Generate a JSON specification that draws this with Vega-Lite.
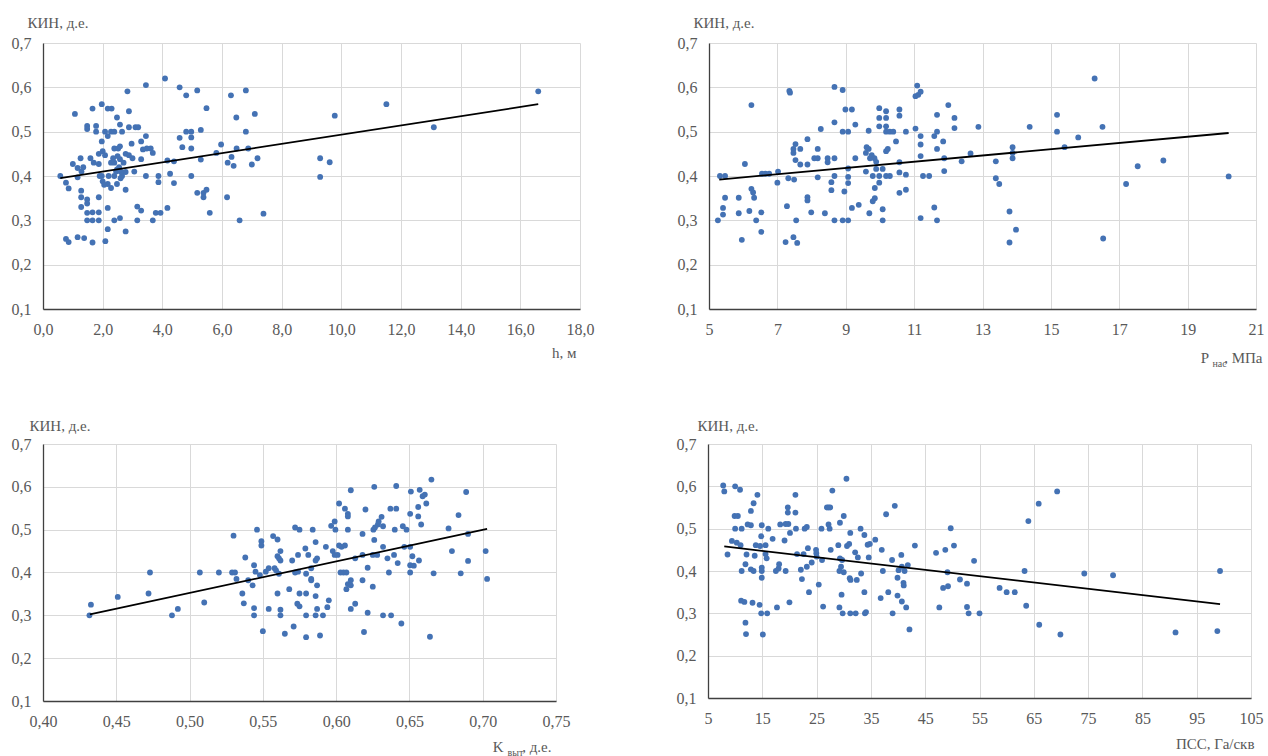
{
"$schema": "https://vega.github.io/schema/vega-lite/v6.json",
"background": "white",
"padding": {"left": 11, "top": 15, "right": 0, "bottom": 0},
"config": {
 "view": {"stroke": null},
 "font": "Liberation Serif, Times New Roman, DejaVu Serif, serif",
 "style": {"guide-label": {"font": "Liberation Serif, Times New Roman, DejaVu Serif, serif"}, "guide-title": {"font": "Liberation Serif, Times New Roman, DejaVu Serif, serif"}},
 "axis": {"grid": true, "gridColor": "#d9d9d9", "gridWidth": 1, "ticks": false, "domainColor": "#404040", "domainWidth": 1.3,
  "labelFont": "Liberation Serif, Times New Roman, DejaVu Serif, serif", "labelFontSize": 16, "labelColor": "#595959", "labelPadding": 12, "labelFlush": false, "labelOverlap": false, "labelBound": false,
  "titleFont": "Liberation Serif, Times New Roman, DejaVu Serif, serif", "titleFontSize": 15, "titleFontWeight": "normal", "titleColor": "#595959"}
},
"datasets": {
 "p1": [{"x":0.58,"y":0.40},{"x":0.77,"y":0.385},{"x":0.86,"y":0.372},{"x":0.77,"y":0.258},{"x":0.86,"y":0.251},{"x":1.07,"y":0.54},{"x":1.0,"y":0.427},{"x":1.16,"y":0.418},{"x":1.16,"y":0.397},{"x":1.29,"y":0.41},{"x":1.16,"y":0.262},{"x":1.38,"y":0.26},{"x":1.26,"y":0.44},{"x":1.28,"y":0.367},{"x":1.28,"y":0.352},{"x":1.28,"y":0.33},{"x":1.48,"y":0.513},{"x":1.48,"y":0.506},{"x":1.48,"y":0.347},{"x":1.48,"y":0.338},{"x":1.48,"y":0.317},{"x":1.48,"y":0.30},{"x":1.59,"y":0.44},{"x":1.66,"y":0.552},{"x":1.66,"y":0.30},{"x":1.66,"y":0.318},{"x":1.66,"y":0.25},{"x":1.78,"y":0.513},{"x":1.78,"y":0.50},{"x":1.87,"y":0.45},{"x":1.87,"y":0.427},{"x":1.87,"y":0.352},{"x":1.87,"y":0.318},{"x":1.87,"y":0.30},{"x":1.97,"y":0.562},{"x":1.97,"y":0.478},{"x":2.0,"y":0.456},{"x":1.97,"y":0.40},{"x":2.0,"y":0.388},{"x":2.09,"y":0.253},{"x":2.08,"y":0.447},{"x":2.08,"y":0.50},{"x":2.17,"y":0.552},{"x":2.30,"y":0.552},{"x":2.17,"y":0.49},{"x":2.17,"y":0.382},{"x":2.17,"y":0.328},{"x":2.17,"y":0.28},{"x":2.28,"y":0.373},{"x":2.28,"y":0.43},{"x":2.28,"y":0.50},{"x":2.39,"y":0.50},{"x":2.39,"y":0.462},{"x":2.39,"y":0.43},{"x":2.39,"y":0.40},{"x":2.39,"y":0.30},{"x":2.48,"y":0.532},{"x":2.48,"y":0.382},{"x":2.48,"y":0.415},{"x":2.52,"y":0.462},{"x":2.58,"y":0.516},{"x":2.58,"y":0.467},{"x":2.58,"y":0.438},{"x":2.58,"y":0.305},{"x":2.65,"y":0.50},{"x":2.65,"y":0.408},{"x":2.65,"y":0.40},{"x":2.77,"y":0.45},{"x":2.77,"y":0.409},{"x":2.77,"y":0.369},{"x":2.77,"y":0.275},{"x":2.83,"y":0.591},{"x":2.88,"y":0.546},{"x":2.88,"y":0.51},{"x":2.88,"y":0.447},{"x":2.97,"y":0.473},{"x":3.06,"y":0.41},{"x":3.1,"y":0.51},{"x":3.19,"y":0.51},{"x":3.16,"y":0.331},{"x":3.16,"y":0.30},{"x":3.29,"y":0.478},{"x":3.29,"y":0.438},{"x":3.29,"y":0.322},{"x":3.45,"y":0.605},{"x":3.45,"y":0.49},{"x":3.45,"y":0.40},{"x":3.48,"y":0.462},{"x":3.61,"y":0.462},{"x":3.68,"y":0.452},{"x":3.68,"y":0.30},{"x":3.78,"y":0.317},{"x":3.87,"y":0.40},{"x":3.87,"y":0.386},{"x":3.94,"y":0.317},{"x":4.09,"y":0.62},{"x":4.17,"y":0.435},{"x":4.17,"y":0.328},{"x":4.26,"y":0.405},{"x":4.39,"y":0.433},{"x":4.39,"y":0.384},{"x":4.58,"y":0.60},{"x":4.58,"y":0.486},{"x":4.67,"y":0.465},{"x":4.80,"y":0.582},{"x":4.80,"y":0.50},{"x":4.97,"y":0.50},{"x":4.97,"y":0.487},{"x":4.97,"y":0.462},{"x":4.97,"y":0.40},{"x":5.17,"y":0.593},{"x":5.17,"y":0.362},{"x":5.29,"y":0.504},{"x":5.29,"y":0.437},{"x":5.38,"y":0.362},{"x":5.38,"y":0.352},{"x":5.48,"y":0.553},{"x":5.48,"y":0.369},{"x":5.59,"y":0.317},{"x":5.81,"y":0.452},{"x":5.97,"y":0.471},{"x":6.17,"y":0.352},{"x":6.19,"y":0.43},{"x":6.30,"y":0.582},{"x":6.32,"y":0.443},{"x":6.39,"y":0.423},{"x":6.48,"y":0.532},{"x":6.49,"y":0.462},{"x":6.59,"y":0.30},{"x":6.80,"y":0.593},{"x":6.80,"y":0.50},{"x":6.88,"y":0.462},{"x":7.0,"y":0.426},{"x":7.10,"y":0.54},{"x":7.19,"y":0.44},{"x":7.39,"y":0.315},{"x":9.29,"y":0.44},{"x":9.29,"y":0.398},{"x":9.61,"y":0.431},{"x":9.78,"y":0.536},{"x":11.51,"y":0.562},{"x":13.1,"y":0.51},{"x":16.6,"y":0.591},{"x":2.45,"y":0.41},{"x":2.55,"y":0.42},{"x":2.6,"y":0.395},{"x":2.7,"y":0.43},{"x":2.35,"y":0.44},{"x":2.5,"y":0.445},{"x":1.9,"y":0.40},{"x":2.2,"y":0.40},{"x":1.7,"y":0.43},{"x":1.35,"y":0.42},{"x":3.0,"y":0.44},{"x":3.35,"y":0.46},{"x":2.05,"y":0.38},{"x":2.6,"y":0.41}],
 "f1": [{"x":0.58,"y":0.395},{"x":16.6,"y":0.562}],
 "p2": [{"x":5.26,"y":0.30},{"x":5.32,"y":0.40},{"x":5.47,"y":0.40},{"x":5.41,"y":0.313},{"x":5.41,"y":0.328},{"x":5.47,"y":0.351},{"x":5.87,"y":0.351},{"x":5.87,"y":0.316},{"x":5.96,"y":0.256},{"x":6.05,"y":0.427},{"x":6.18,"y":0.321},{"x":6.24,"y":0.56},{"x":6.24,"y":0.371},{"x":6.29,"y":0.363},{"x":6.32,"y":0.351},{"x":6.38,"y":0.30},{"x":6.53,"y":0.318},{"x":6.53,"y":0.274},{"x":6.55,"y":0.405},{"x":6.65,"y":0.405},{"x":6.76,"y":0.405},{"x":7.0,"y":0.385},{"x":7.02,"y":0.41},{"x":7.28,"y":0.332},{"x":7.24,"y":0.251},{"x":7.32,"y":0.395},{"x":7.35,"y":0.592},{"x":7.37,"y":0.588},{"x":7.47,"y":0.461},{"x":7.47,"y":0.452},{"x":7.49,"y":0.392},{"x":7.47,"y":0.262},{"x":7.53,"y":0.472},{"x":7.53,"y":0.436},{"x":7.55,"y":0.30},{"x":7.58,"y":0.249},{"x":7.67,"y":0.461},{"x":7.67,"y":0.426},{"x":7.88,"y":0.483},{"x":7.88,"y":0.426},{"x":7.88,"y":0.352},{"x":7.88,"y":0.345},{"x":7.99,"y":0.318},{"x":8.08,"y":0.44},{"x":8.18,"y":0.461},{"x":8.18,"y":0.44},{"x":8.18,"y":0.397},{"x":8.27,"y":0.506},{"x":8.39,"y":0.316},{"x":8.47,"y":0.44},{"x":8.47,"y":0.431},{"x":8.58,"y":0.386},{"x":8.58,"y":0.368},{"x":8.67,"y":0.601},{"x":8.67,"y":0.521},{"x":8.67,"y":0.44},{"x":8.67,"y":0.40},{"x":8.67,"y":0.30},{"x":8.91,"y":0.594},{"x":8.91,"y":0.50},{"x":8.91,"y":0.30},{"x":8.99,"y":0.55},{"x":8.96,"y":0.365},{"x":9.07,"y":0.50},{"x":9.07,"y":0.417},{"x":9.07,"y":0.398},{"x":9.07,"y":0.384},{"x":9.07,"y":0.30},{"x":9.18,"y":0.55},{"x":9.18,"y":0.328},{"x":9.28,"y":0.516},{"x":9.28,"y":0.44},{"x":9.38,"y":0.335},{"x":9.59,"y":0.452},{"x":9.59,"y":0.41},{"x":9.61,"y":0.465},{"x":9.67,"y":0.502},{"x":9.67,"y":0.461},{"x":9.69,"y":0.316},{"x":9.71,"y":0.44},{"x":9.76,"y":0.447},{"x":9.79,"y":0.40},{"x":9.79,"y":0.343},{"x":9.84,"y":0.44},{"x":9.85,"y":0.35},{"x":9.85,"y":0.373},{"x":9.89,"y":0.432},{"x":9.89,"y":0.416},{"x":9.98,"y":0.553},{"x":9.98,"y":0.531},{"x":9.98,"y":0.512},{"x":9.98,"y":0.40},{"x":9.98,"y":0.385},{"x":10.08,"y":0.416},{"x":10.08,"y":0.325},{"x":10.08,"y":0.30},{"x":10.18,"y":0.546},{"x":10.18,"y":0.531},{"x":10.18,"y":0.512},{"x":10.18,"y":0.50},{"x":10.18,"y":0.456},{"x":10.23,"y":0.461},{"x":10.18,"y":0.40},{"x":10.29,"y":0.50},{"x":10.29,"y":0.40},{"x":10.39,"y":0.50},{"x":10.47,"y":0.478},{"x":10.57,"y":0.55},{"x":10.57,"y":0.536},{"x":10.57,"y":0.431},{"x":10.57,"y":0.408},{"x":10.57,"y":0.362},{"x":10.76,"y":0.50},{"x":10.76,"y":0.403},{"x":10.76,"y":0.369},{"x":11.04,"y":0.507},{"x":11.04,"y":0.58},{"x":11.09,"y":0.604},{"x":11.12,"y":0.583},{"x":11.19,"y":0.59},{"x":11.19,"y":0.49},{"x":11.19,"y":0.471},{"x":11.19,"y":0.445},{"x":11.19,"y":0.305},{"x":11.26,"y":0.40},{"x":11.44,"y":0.40},{"x":11.59,"y":0.49},{"x":11.59,"y":0.329},{"x":11.67,"y":0.50},{"x":11.67,"y":0.538},{"x":11.67,"y":0.461},{"x":11.67,"y":0.30},{"x":11.85,"y":0.478},{"x":11.88,"y":0.44},{"x":11.88,"y":0.411},{"x":12.0,"y":0.56},{"x":12.18,"y":0.531},{"x":12.18,"y":0.508},{"x":12.39,"y":0.433},{"x":12.65,"y":0.451},{"x":12.88,"y":0.511},{"x":13.39,"y":0.433},{"x":13.39,"y":0.395},{"x":13.49,"y":0.382},{"x":13.79,"y":0.32},{"x":13.79,"y":0.25},{"x":13.88,"y":0.465},{"x":13.88,"y":0.452},{"x":13.88,"y":0.44},{"x":13.98,"y":0.279},{"x":14.38,"y":0.511},{"x":15.18,"y":0.538},{"x":15.18,"y":0.50},{"x":15.4,"y":0.465},{"x":15.8,"y":0.487},{"x":16.28,"y":0.62},{"x":16.51,"y":0.511},{"x":16.53,"y":0.259},{"x":17.2,"y":0.382},{"x":17.54,"y":0.422},{"x":18.29,"y":0.435},{"x":20.2,"y":0.399}],
 "f2": [{"x":5.3,"y":0.392},{"x":20.2,"y":0.497}],
 "p3": [{"x":0.4317,"y":0.30},{"x":0.4327,"y":0.325},{"x":0.451,"y":0.343},{"x":0.472,"y":0.351},{"x":0.473,"y":0.40},{"x":0.488,"y":0.30},{"x":0.492,"y":0.315},{"x":0.507,"y":0.40},{"x":0.510,"y":0.33},{"x":0.520,"y":0.40},{"x":0.529,"y":0.40},{"x":0.531,"y":0.40},{"x":0.530,"y":0.486},{"x":0.532,"y":0.385},{"x":0.536,"y":0.351},{"x":0.537,"y":0.328},{"x":0.538,"y":0.435},{"x":0.540,"y":0.382},{"x":0.543,"y":0.37},{"x":0.544,"y":0.417},{"x":0.544,"y":0.317},{"x":0.544,"y":0.30},{"x":0.545,"y":0.402},{"x":0.546,"y":0.50},{"x":0.548,"y":0.394},{"x":0.549,"y":0.473},{"x":0.549,"y":0.463},{"x":0.550,"y":0.263},{"x":0.552,"y":0.402},{"x":0.554,"y":0.41},{"x":0.554,"y":0.315},{"x":0.557,"y":0.485},{"x":0.558,"y":0.41},{"x":0.559,"y":0.405},{"x":0.560,"y":0.477},{"x":0.560,"y":0.351},{"x":0.560,"y":0.438},{"x":0.561,"y":0.433},{"x":0.561,"y":0.397},{"x":0.562,"y":0.45},{"x":0.562,"y":0.428},{"x":0.562,"y":0.313},{"x":0.562,"y":0.30},{"x":0.565,"y":0.257},{"x":0.568,"y":0.361},{"x":0.570,"y":0.428},{"x":0.571,"y":0.274},{"x":0.572,"y":0.505},{"x":0.572,"y":0.40},{"x":0.5735,"y":0.327},{"x":0.574,"y":0.441},{"x":0.574,"y":0.402},{"x":0.575,"y":0.50},{"x":0.575,"y":0.351},{"x":0.575,"y":0.321},{"x":0.579,"y":0.456},{"x":0.5795,"y":0.397},{"x":0.5795,"y":0.351},{"x":0.5795,"y":0.30},{"x":0.5795,"y":0.249},{"x":0.581,"y":0.441},{"x":0.583,"y":0.41},{"x":0.583,"y":0.385},{"x":0.583,"y":0.382},{"x":0.584,"y":0.50},{"x":0.586,"y":0.471},{"x":0.586,"y":0.428},{"x":0.586,"y":0.345},{"x":0.586,"y":0.30},{"x":0.587,"y":0.433},{"x":0.587,"y":0.37},{"x":0.587,"y":0.315},{"x":0.589,"y":0.253},{"x":0.591,"y":0.30},{"x":0.593,"y":0.46},{"x":0.594,"y":0.319},{"x":0.595,"y":0.335},{"x":0.5966,"y":0.509},{"x":0.5977,"y":0.45},{"x":0.599,"y":0.441},{"x":0.599,"y":0.519},{"x":0.5995,"y":0.50},{"x":0.601,"y":0.441},{"x":0.602,"y":0.561},{"x":0.602,"y":0.463},{"x":0.603,"y":0.40},{"x":0.6037,"y":0.46},{"x":0.605,"y":0.40},{"x":0.606,"y":0.463},{"x":0.606,"y":0.549},{"x":0.607,"y":0.40},{"x":0.607,"y":0.361},{"x":0.608,"y":0.537},{"x":0.608,"y":0.531},{"x":0.608,"y":0.50},{"x":0.608,"y":0.373},{"x":0.610,"y":0.592},{"x":0.610,"y":0.382},{"x":0.610,"y":0.37},{"x":0.610,"y":0.315},{"x":0.613,"y":0.433},{"x":0.613,"y":0.327},{"x":0.618,"y":0.49},{"x":0.618,"y":0.441},{"x":0.618,"y":0.382},{"x":0.619,"y":0.261},{"x":0.620,"y":0.547},{"x":0.6215,"y":0.411},{"x":0.6215,"y":0.306},{"x":0.625,"y":0.367},{"x":0.625,"y":0.441},{"x":0.6254,"y":0.50},{"x":0.626,"y":0.60},{"x":0.626,"y":0.476},{"x":0.6265,"y":0.505},{"x":0.628,"y":0.441},{"x":0.6285,"y":0.512},{"x":0.629,"y":0.519},{"x":0.631,"y":0.53},{"x":0.632,"y":0.508},{"x":0.632,"y":0.46},{"x":0.632,"y":0.30},{"x":0.635,"y":0.433},{"x":0.636,"y":0.40},{"x":0.637,"y":0.549},{"x":0.6375,"y":0.30},{"x":0.6395,"y":0.441},{"x":0.640,"y":0.50},{"x":0.641,"y":0.602},{"x":0.641,"y":0.549},{"x":0.642,"y":0.422},{"x":0.6445,"y":0.281},{"x":0.6455,"y":0.508},{"x":0.6465,"y":0.46},{"x":0.648,"y":0.50},{"x":0.6505,"y":0.537},{"x":0.6505,"y":0.46},{"x":0.6505,"y":0.417},{"x":0.6505,"y":0.40},{"x":0.651,"y":0.589},{"x":0.652,"y":0.438},{"x":0.653,"y":0.416},{"x":0.656,"y":0.531},{"x":0.656,"y":0.553},{"x":0.6565,"y":0.428},{"x":0.657,"y":0.593},{"x":0.658,"y":0.512},{"x":0.659,"y":0.578},{"x":0.6605,"y":0.582},{"x":0.6615,"y":0.561},{"x":0.664,"y":0.25},{"x":0.665,"y":0.617},{"x":0.6665,"y":0.398},{"x":0.6767,"y":0.503},{"x":0.679,"y":0.45},{"x":0.6835,"y":0.534},{"x":0.685,"y":0.398},{"x":0.6887,"y":0.588},{"x":0.690,"y":0.49},{"x":0.690,"y":0.427},{"x":0.702,"y":0.45},{"x":0.703,"y":0.385}],
 "f3": [{"x":0.432,"y":0.302},{"x":0.703,"y":0.502}],
 "p4": [{"x":7.8,"y":0.602},{"x":8.0,"y":0.588},{"x":8.6,"y":0.439},{"x":9.4,"y":0.471},{"x":9.9,"y":0.53},{"x":10.0,"y":0.50},{"x":10.0,"y":0.60},{"x":10.3,"y":0.467},{"x":10.5,"y":0.53},{"x":10.9,"y":0.592},{"x":11.0,"y":0.461},{"x":11.2,"y":0.50},{"x":11.2,"y":0.40},{"x":11.1,"y":0.33},{"x":11.7,"y":0.327},{"x":11.9,"y":0.416},{"x":11.9,"y":0.278},{"x":12.0,"y":0.251},{"x":12.1,"y":0.439},{"x":12.3,"y":0.51},{"x":12.9,"y":0.542},{"x":12.9,"y":0.508},{"x":12.9,"y":0.404},{"x":13.2,"y":0.325},{"x":13.4,"y":0.56},{"x":13.4,"y":0.40},{"x":13.6,"y":0.436},{"x":13.8,"y":0.461},{"x":14.1,"y":0.58},{"x":14.5,"y":0.32},{"x":14.6,"y":0.459},{"x":14.8,"y":0.482},{"x":14.8,"y":0.30},{"x":14.9,"y":0.508},{"x":14.9,"y":0.408},{"x":14.9,"y":0.40},{"x":14.9,"y":0.384},{"x":15.1,"y":0.25},{"x":15.6,"y":0.461},{"x":15.6,"y":0.44},{"x":15.8,"y":0.43},{"x":15.9,"y":0.30},{"x":16.1,"y":0.50},{"x":16.9,"y":0.476},{"x":17.5,"y":0.40},{"x":17.7,"y":0.314},{"x":18.0,"y":0.406},{"x":18.1,"y":0.416},{"x":18.3,"y":0.51},{"x":19.1,"y":0.472},{"x":19.3,"y":0.40},{"x":19.3,"y":0.511},{"x":19.7,"y":0.538},{"x":19.7,"y":0.55},{"x":19.8,"y":0.511},{"x":20.0,"y":0.326},{"x":20.1,"y":0.49},{"x":21.1,"y":0.58},{"x":21.1,"y":0.538},{"x":21.2,"y":0.50},{"x":21.4,"y":0.44},{"x":22.1,"y":0.403},{"x":22.3,"y":0.381},{"x":22.6,"y":0.44},{"x":22.8,"y":0.50},{"x":23.2,"y":0.504},{"x":23.2,"y":0.41},{"x":23.4,"y":0.454},{"x":23.6,"y":0.35},{"x":24.1,"y":0.42},{"x":24.9,"y":0.45},{"x":24.95,"y":0.442},{"x":25.0,"y":0.434},{"x":25.4,"y":0.368},{"x":25.9,"y":0.50},{"x":26.0,"y":0.426},{"x":26.2,"y":0.316},{"x":26.9,"y":0.55},{"x":27.2,"y":0.55},{"x":27.5,"y":0.55},{"x":27.2,"y":0.51},{"x":27.4,"y":0.50},{"x":27.6,"y":0.45},{"x":27.9,"y":0.59},{"x":29.0,"y":0.461},{"x":29.2,"y":0.314},{"x":29.2,"y":0.40},{"x":29.3,"y":0.514},{"x":29.3,"y":0.43},{"x":29.5,"y":0.41},{"x":29.6,"y":0.344},{"x":29.7,"y":0.426},{"x":29.8,"y":0.30},{"x":30.0,"y":0.53},{"x":30.0,"y":0.397},{"x":30.5,"y":0.618},{"x":30.6,"y":0.459},{"x":31.0,"y":0.464},{"x":31.1,"y":0.383},{"x":31.2,"y":0.49},{"x":31.2,"y":0.30},{"x":31.25,"y":0.379},{"x":32.1,"y":0.444},{"x":32.2,"y":0.30},{"x":32.4,"y":0.379},{"x":32.6,"y":0.432},{"x":33.1,"y":0.50},{"x":33.2,"y":0.394},{"x":33.8,"y":0.485},{"x":33.8,"y":0.35},{"x":33.9,"y":0.30},{"x":34.1,"y":0.303},{"x":34.4,"y":0.462},{"x":34.6,"y":0.432},{"x":34.8,"y":0.464},{"x":35.8,"y":0.474},{"x":36.8,"y":0.336},{"x":37.0,"y":0.45},{"x":37.2,"y":0.40},{"x":37.8,"y":0.534},{"x":38.2,"y":0.35},{"x":38.9,"y":0.426},{"x":39.0,"y":0.30},{"x":39.4,"y":0.554},{"x":39.9,"y":0.384},{"x":39.9,"y":0.342},{"x":40.1,"y":0.402},{"x":40.6,"y":0.438},{"x":40.7,"y":0.328},{"x":40.7,"y":0.41},{"x":41.0,"y":0.372},{"x":41.05,"y":0.366},{"x":41.2,"y":0.40},{"x":41.5,"y":0.314},{"x":41.8,"y":0.414},{"x":42.1,"y":0.262},{"x":43.1,"y":0.46},{"x":47.0,"y":0.443},{"x":47.6,"y":0.314},{"x":48.3,"y":0.36},{"x":48.7,"y":0.45},{"x":49.1,"y":0.397},{"x":49.2,"y":0.364},{"x":49.7,"y":0.501},{"x":50.3,"y":0.46},{"x":51.4,"y":0.38},{"x":52.7,"y":0.37},{"x":52.7,"y":0.315},{"x":53.0,"y":0.30},{"x":54.0,"y":0.424},{"x":55.0,"y":0.30},{"x":58.7,"y":0.36},{"x":60.0,"y":0.35},{"x":61.5,"y":0.35},{"x":63.3,"y":0.40},{"x":63.6,"y":0.318},{"x":64.0,"y":0.518},{"x":65.9,"y":0.559},{"x":66.0,"y":0.273},{"x":69.3,"y":0.588},{"x":69.9,"y":0.25},{"x":74.3,"y":0.394},{"x":79.6,"y":0.39},{"x":91.1,"y":0.255},{"x":98.8,"y":0.258},{"x":99.3,"y":0.40}],
 "f4": [{"x":8,"y":0.458},{"x":99.3,"y":0.322}]
},
"spacing": 50,
"vconcat": [
 {"hconcat": [
  {"width": 537, "height": 266,
   "encoding": {
    "x": {"field": "x", "type": "quantitative", "scale": {"domain": [0, 18], "nice": false, "zero": false},
     "axis": {"values": [0,2,4,6,8,10,12,14,16,18], "labelExpr": "replace(format(datum.value, '.1f'), '.', ',')", "title": "h, м", "titleAlign": "right", "titleBaseline": "alphabetic", "titleX": 533, "titleY": 48}},
    "y": {"field": "y", "type": "quantitative", "scale": {"domain": [0.1, 0.7], "nice": false, "zero": false},
     "axis": {"values": [0.1,0.2,0.3,0.4,0.5,0.6,0.7], "labelExpr": "replace(format(datum.value, '.1f'), '.', ',')", "title": "КИН, д.е.", "titleAngle": 0, "titleAlign": "left", "titleBaseline": "alphabetic", "titleX": -16, "titleY": -16}}
   },
   "layer": [
    {"data": {"name": "p1"}, "mark": {"type": "circle", "size": 34, "color": "#4472b4", "opacity": 1}},
    {"data": {"name": "f1"}, "mark": {"type": "line", "color": "#000000", "strokeWidth": 1.8}}
   ]
  },
  {"width": 547, "height": 266,
   "encoding": {
    "y": {"field": "y", "type": "quantitative", "scale": {"domain": [0.1, 0.7], "nice": false, "zero": false},
     "axis": {"values": [0.1,0.2,0.3,0.4,0.5,0.6,0.7], "labelExpr": "replace(format(datum.value, '.1f'), '.', ',')", "title": "КИН, д.е.", "titleAngle": 0, "titleAlign": "left", "titleBaseline": "alphabetic", "titleX": -16, "titleY": -16}}
   },
   "resolve": {"axis": {"x": "independent"}},
   "layer": [
    {"data": {"name": "p2"}, "mark": {"type": "circle", "size": 34, "color": "#4472b4", "opacity": 1},
     "encoding": {"x": {"field": "x", "type": "quantitative", "scale": {"domain": [5, 21], "nice": false, "zero": false},
      "axis": {"orient": "bottom", "values": [5,7,9,11,13,15,17,19,21], "title": "P\u00a0\u00a0\u00a0\u00a0, МПа", "titleAlign": "right", "titleBaseline": "alphabetic", "titleX": 553, "titleY": 53}}}},
    {"data": {"name": "f2"}, "mark": {"type": "line", "color": "#000000", "strokeWidth": 1.8},
     "encoding": {"x": {"field": "x", "type": "quantitative", "scale": {"domain": [5, 21], "nice": false, "zero": false},
      "axis": {"orient": "bottom", "labels": false, "grid": false, "domain": false, "ticks": false, "title": "нас", "titleFontSize": 10, "titleAlign": "left", "titleBaseline": "alphabetic", "titleX": 503, "titleY": 57}}}}
   ]
  }
 ], "spacing": 83},
 {"hconcat": [
  {"width": 513, "height": 257,
   "encoding": {
    "y": {"field": "y", "type": "quantitative", "scale": {"domain": [0.1, 0.7], "nice": false, "zero": false},
     "axis": {"values": [0.1,0.2,0.3,0.4,0.5,0.6,0.7], "labelExpr": "'\u00a0\u00a0\u00a0' + replace(format(datum.value, '.1f'), '.', ',')", "title": "КИН, д.е.", "titleAngle": 0, "titleAlign": "left", "titleBaseline": "alphabetic", "titleX": -14, "titleY": -14}}
   },
   "resolve": {"axis": {"x": "independent"}},
   "layer": [
    {"data": {"name": "p3"}, "mark": {"type": "circle", "size": 34, "color": "#4472b4", "opacity": 1},
     "encoding": {"x": {"field": "x", "type": "quantitative", "scale": {"domain": [0.4, 0.75], "nice": false, "zero": false},
      "axis": {"orient": "bottom", "values": [0.4,0.45,0.5,0.55,0.6,0.65,0.7,0.75], "labelExpr": "replace(format(datum.value, '.2f'), '.', ',')", "title": "K\u00a0\u00a0\u00a0\u00a0\u00a0, д.е.", "titleAlign": "right", "titleBaseline": "alphabetic", "titleX": 508, "titleY": 50}}}},
    {"data": {"name": "f3"}, "mark": {"type": "line", "color": "#000000", "strokeWidth": 1.8},
     "encoding": {"x": {"field": "x", "type": "quantitative", "scale": {"domain": [0.4, 0.75], "nice": false, "zero": false},
      "axis": {"orient": "bottom", "labels": false, "grid": false, "domain": false, "ticks": false, "title": "выт", "titleFontSize": 10, "titleAlign": "left", "titleBaseline": "alphabetic", "titleX": 464, "titleY": 54}}}}
   ]
  },
  {"width": 543, "height": 254,
   "encoding": {
    "x": {"field": "x", "type": "quantitative", "scale": {"domain": [5, 105], "nice": false, "zero": false},
     "axis": {"values": [5,15,25,35,45,55,65,75,85,95,105], "title": "ПСС, Га/скв", "titleAlign": "right", "titleBaseline": "alphabetic", "titleX": 546, "titleY": 50}},
    "y": {"field": "y", "type": "quantitative", "scale": {"domain": [0.1, 0.7], "nice": false, "zero": false},
     "axis": {"values": [0.1,0.2,0.3,0.4,0.5,0.6,0.7], "labelExpr": "replace(format(datum.value, '.1f'), '.', ',')", "title": "КИН, д.е.", "titleAngle": 0, "titleAlign": "left", "titleBaseline": "alphabetic", "titleX": -11, "titleY": -14}}
   },
   "layer": [
    {"data": {"name": "p4"}, "mark": {"type": "circle", "size": 34, "color": "#4472b4", "opacity": 1}},
    {"data": {"name": "f4"}, "mark": {"type": "line", "color": "#000000", "strokeWidth": 1.8}}
   ]
  }
 ], "spacing": 106}
]
}
